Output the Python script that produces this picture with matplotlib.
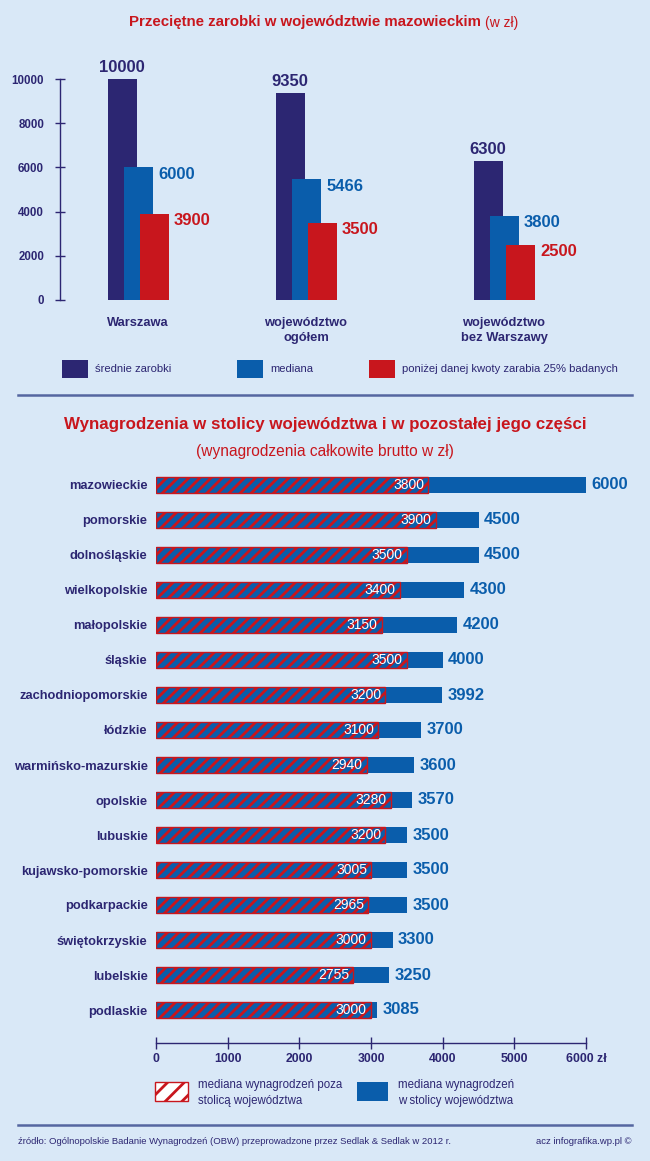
import matplotlib
matplotlib.use('Agg')
import matplotlib.pyplot as plt
from matplotlib.patches import Rectangle
from matplotlib.lines import Line2D

# dane - wykres gorny
kategorie = ['Warszawa', 'województwo\nogółem', 'województwo\nbez Warszawy']
srednie = [10000, 9350, 6300]
mediana = [6000, 5466, 3800]
kwartyl = [3900, 3500, 2500]

# dane - wykres dolny
wojewodztwa = ['mazowieckie', 'pomorskie', 'dolnośląskie', 'wielkopolskie', 'małopolskie',
               'śląskie', 'zachodniopomorskie', 'łódzkie', 'warmińsko-mazurskie', 'opolskie',
               'lubuskie', 'kujawsko-pomorskie', 'podkarpackie', 'świętokrzyskie', 'lubelskie',
               'podlaskie']
poza_stolica = [3800, 3900, 3500, 3400, 3150, 3500, 3200, 3100, 2940, 3280,
                3200, 3005, 2965, 3000, 2755, 3000]
w_stolicy = [6000, 4500, 4500, 4300, 4200, 4000, 3992, 3700, 3600, 3570,
             3500, 3500, 3500, 3300, 3250, 3085]
x_ticks = [0, 1000, 2000, 3000, 4000, 5000, 6000]
x_tick_labels = ['0', '1000', '2000', '3000', '4000', '5000', '6000 zł']

# kolory
tlo = '#d9e8f7'
granat = '#2c2672'
niebieski = '#0a5dab'
czerwony = '#c8161d'
linia = '#5566a0'

plt.rcParams['font.family'] = ['Liberation Sans', 'DejaVu Sans']
plt.rcParams['hatch.linewidth'] = 2.0

W, H = 650, 1161
fig = plt.figure(figsize=(W / 100, H / 100), dpi=100, facecolor=tlo)


def box(x0, y0, x1, y1):
    # piksele (od gory) -> wspolrzedne figury
    return [x0 / W, 1 - y1 / H, (x1 - x0) / W, (y1 - y0) / H]


def fx(x):
    return x / W


def fy(y):
    return 1 - y / H


# ---------------- tytuly ----------------
fig.text(fx(481), fy(22), 'Przeciętne zarobki w województwie mazowieckim', color=czerwony,
         fontsize=10.8, fontweight='bold', ha='right', va='center')
fig.text(fx(485), fy(23), '(w zł)', color=czerwony, fontsize=10, ha='left', va='center')

# ---------------- wykres gorny ----------------
ax1 = fig.add_axes(box(60, 79, 640, 300))
ax1.set_facecolor('none')
pozycje = [138, 306, 504]
szer = 29
ax1.bar([p - 16 for p in pozycje], srednie, width=szer, color=granat, zorder=2)
ax1.bar(pozycje, mediana, width=szer, color=niebieski, zorder=3)
ax1.bar([p + 16 for p in pozycje], kwartyl, width=szer, color=czerwony, zorder=4)
ax1.set_xlim(60, 640)
ax1.set_ylim(0, 10000)
for p, s, m, k in zip(pozycje, srednie, mediana, kwartyl):
    ax1.annotate(str(s), (p - 16, s), xytext=(0, 3), textcoords='offset points',
                 ha='center', va='bottom', color=granat, fontsize=12, fontweight='bold',
                 annotation_clip=False)
    ax1.annotate(str(m), (p + szer / 2, m), xytext=(4, -5), textcoords='offset points',
                 ha='left', va='center', color=niebieski, fontsize=12, fontweight='bold')
    ax1.annotate(str(k), (p + 16 + szer / 2, k), xytext=(4, -5), textcoords='offset points',
                 ha='left', va='center', color=czerwony, fontsize=12, fontweight='bold')
ax1.set_yticks([0, 2000, 4000, 6000, 8000, 10000])
ax1.set_xticks(pozycje)
ax1.set_xticklabels(kategorie)
for s in ['top', 'right', 'bottom']:
    ax1.spines[s].set_visible(False)
ax1.spines['left'].set_color(granat)
ax1.spines['left'].set_linewidth(1)
ax1.tick_params(axis='y', direction='inout', length=7, width=1, color=granat,
                labelcolor=granat, labelsize=8.3, pad=8)
ax1.tick_params(axis='x', length=0, labelcolor=granat, labelsize=9.3, pad=12)
for t in ax1.get_yticklabels() + ax1.get_xticklabels():
    t.set_fontweight('bold')
for t in ax1.get_xticklabels():
    t.set_linespacing(1.35)
    t.set_va('top')

# legenda gorna
leg1 = [(62, granat, 'średnie zarobki'), (237, niebieski, 'mediana'),
        (369, czerwony, 'poniżej danej kwoty zarabia 25% badanych')]
for x0, c, t in leg1:
    fig.add_artist(Rectangle((fx(x0), fy(378)), 26 / W, 18 / H, transform=fig.transFigure,
                             facecolor=c, edgecolor='none'))
    fig.text(fx(x0 + 33), fy(369), t, color=granat, fontsize=8.1, ha='left', va='center')

fig.add_artist(Line2D([fx(18), fx(632)], [fy(395), fy(395)], transform=fig.transFigure,
                      color=linia, linewidth=1.8))

# ---------------- tytul dolny ----------------
fig.text(fx(325), fy(425), 'Wynagrodzenia w stolicy województwa i w pozostałej jego części',
         color=czerwony, fontsize=12.2, fontweight='bold', ha='center', va='center')
fig.text(fx(325), fy(452), '(wynagrodzenia całkowite brutto w zł)', color=czerwony,
         fontsize=11.2, ha='center', va='center')

# ---------------- wykres dolny ----------------
ax2 = fig.add_axes(box(156, 470, 586, 1043))
ax2.set_facecolor('none')
y = list(range(len(wojewodztwa)))
h = 16 / 35
ax2.barh(y, w_stolicy, height=h, color=niebieski, zorder=2)
ax2.barh(y, poza_stolica, height=h, color=niebieski, edgecolor=czerwony, hatch='///',
         linewidth=1, zorder=3)
ax2.set_xlim(0, 6000)
ax2.set_ylim((1043 - 485) / 35, (470 - 485) / 35)
for i, (p, s) in enumerate(zip(poza_stolica, w_stolicy)):
    ax2.annotate(str(s), (s, i), xytext=(4, 0), textcoords='offset points', ha='left',
                 va='center', color=niebieski, fontsize=12, fontweight='bold')
    ax2.annotate(str(p), (p, i), xytext=(-3, 0), textcoords='offset points', ha='right',
                 va='center', color='white', fontsize=10, zorder=5)
ax2.set_yticks(y)
ax2.set_yticklabels(wojewodztwa)
ax2.set_xticks(x_ticks)
ax2.set_xticklabels(x_tick_labels)
for s in ['top', 'right', 'left']:
    ax2.spines[s].set_visible(False)
ax2.spines['bottom'].set_color(granat)
ax2.spines['bottom'].set_linewidth(1)
ax2.tick_params(axis='y', length=0, labelcolor=granat, labelsize=9.3, pad=6)
ax2.tick_params(axis='x', direction='inout', length=9, width=1, color=granat,
                labelcolor=granat, labelsize=8.8, pad=3)
for t in ax2.get_yticklabels() + ax2.get_xticklabels():
    t.set_fontweight('bold')

# legenda dolna
fig.add_artist(Rectangle((fx(155), fy(1101)), 33 / W, 19 / H, transform=fig.transFigure,
                         facecolor='white', edgecolor=czerwony, hatch='//', linewidth=1))
fig.text(fx(198), fy(1093), 'mediana wynagrodzeń poza\nstolicą województwa', color=granat,
         fontsize=8.3, ha='left', va='center', linespacing=1.4)
fig.add_artist(Rectangle((fx(357), fy(1101)), 31 / W, 19 / H, transform=fig.transFigure,
                         facecolor=niebieski, edgecolor='none'))
fig.text(fx(398), fy(1093), 'mediana wynagrodzeń\nw stolicy województwa', color=granat,
         fontsize=8.3, ha='left', va='center', linespacing=1.4)

# stopka
fig.add_artist(Line2D([fx(18), fx(632)], [fy(1125), fy(1125)], transform=fig.transFigure,
                      color=linia, linewidth=1.8))
fig.text(fx(18), fy(1141), 'źródło: Ogólnopolskie Badanie Wynagrodzeń (OBW) przeprowadzone przez Sedlak & Sedlak w 2012 r.',
         color=granat, fontsize=6.8, ha='left', va='center')
fig.text(fx(632), fy(1141), 'acz infografika.wp.pl ©', color=granat, fontsize=6.8,
         ha='right', va='center')

plt.savefig('out.png', dpi=100, facecolor=tlo)
